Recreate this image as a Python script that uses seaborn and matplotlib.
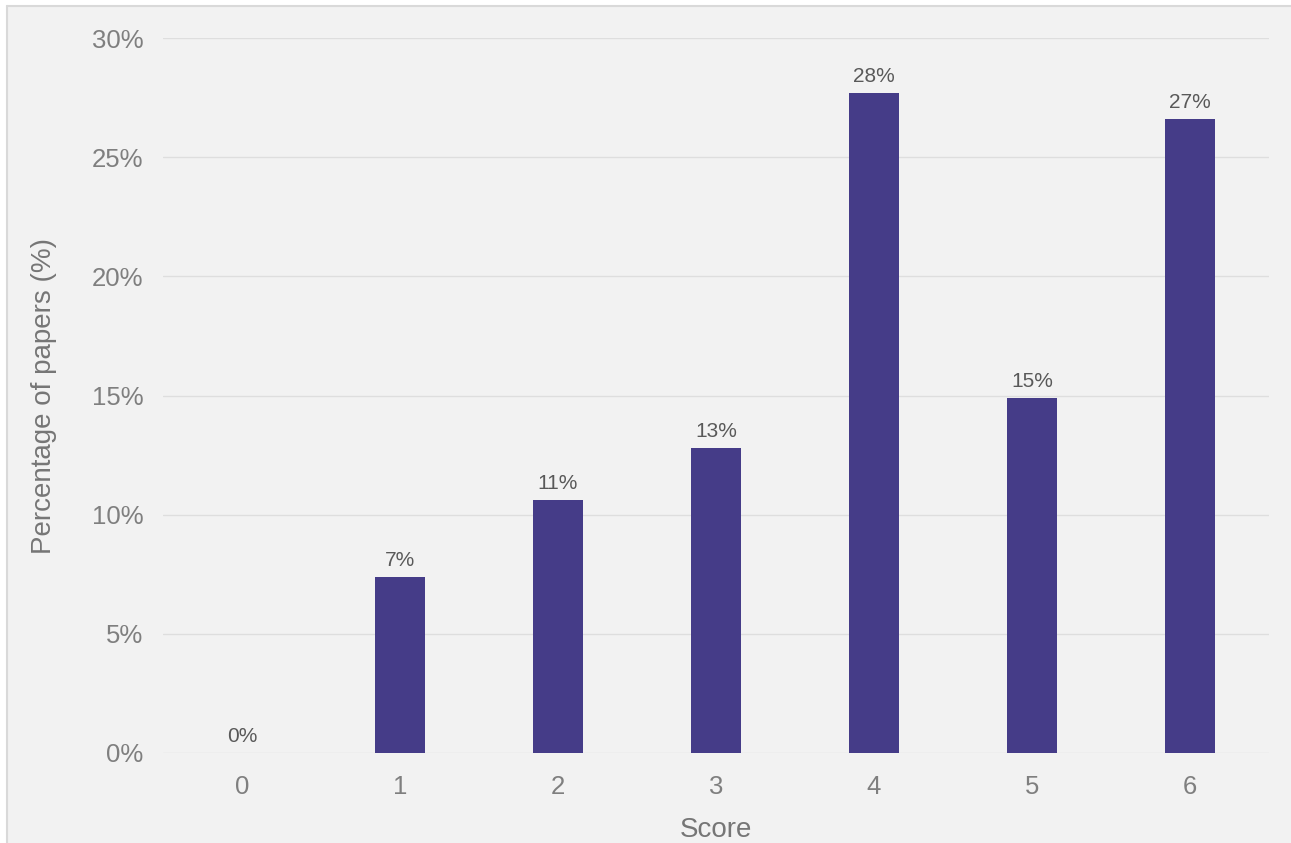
import numpy as np
import pandas as pd
import seaborn as sns
import matplotlib.pyplot as plt
from matplotlib.lines import Line2D
from matplotlib.patches import Rectangle
from matplotlib.ticker import PercentFormatter, MultipleLocator

# values
scores = ["0", "1", "2", "3", "4", "5", "6"]
pct_papers = [0.0, 7.4, 10.6, 12.8, 27.7, 14.9, 26.6]

df = pd.DataFrame({"Score": scores, "pct": pct_papers})

sns.set_theme(style="white")
plt.rcParams["font.family"] = ["Liberation Sans", "DejaVu Sans"]

W, H = 1291, 843
fig = plt.figure(figsize=(W / 100, H / 100), dpi=100, facecolor="white")

# grey panel, thin border on left/top only (picture is cropped right/bottom)
x0, y0 = 6.5 / W, 1 - 5.5 / H
fig.patches.append(Rectangle((x0, -0.1), 1.2, y0 + 0.1, transform=fig.transFigure,
                             facecolor="#f2f2f2", edgecolor="none", zorder=-10))
fig.add_artist(Line2D([x0, x0], [0, y0], transform=fig.transFigure,
                      color="#d9d9d9", lw=1.5))
fig.add_artist(Line2D([x0, 1.1], [y0, y0], transform=fig.transFigure,
                      color="#d9d9d9", lw=1.5))

ax = fig.add_axes([163 / W, (H - 753) / H, (1269 - 163) / W, (753 - 38) / H])
ax.set_facecolor("none")

sns.barplot(data=df, x="Score", y="pct", color="#453c88", width=0.32,
            saturation=1, linewidth=0, ax=ax, zorder=3)

ax.bar_label(ax.containers[0], fmt="{:.0f}%", padding=5, fontsize=15,
             color="#595959")

ax.set_ylim(0, 30)
ax.set_xlim(-0.5, 6.5)
ax.yaxis.set_major_locator(MultipleLocator(5))
ax.yaxis.set_major_formatter(PercentFormatter(xmax=100, decimals=0))
ax.grid(axis="y", color="#dedede", lw=1, zorder=0)
ax.set_axisbelow(True)
sns.despine(ax=ax, left=True, bottom=True)

ax.tick_params(axis="both", length=0, labelsize=18.5, labelcolor="#7f7f7f")
ax.tick_params(axis="y", pad=14)
ax.tick_params(axis="x", pad=16)

ax.set_xlabel("Score", fontsize=20, color="#767676", labelpad=13)
ax.set_ylabel("Percentage of papers (%)", fontsize=20, color="#767676",
              labelpad=25)

fig.savefig("out.png", dpi=100, facecolor=fig.get_facecolor())
